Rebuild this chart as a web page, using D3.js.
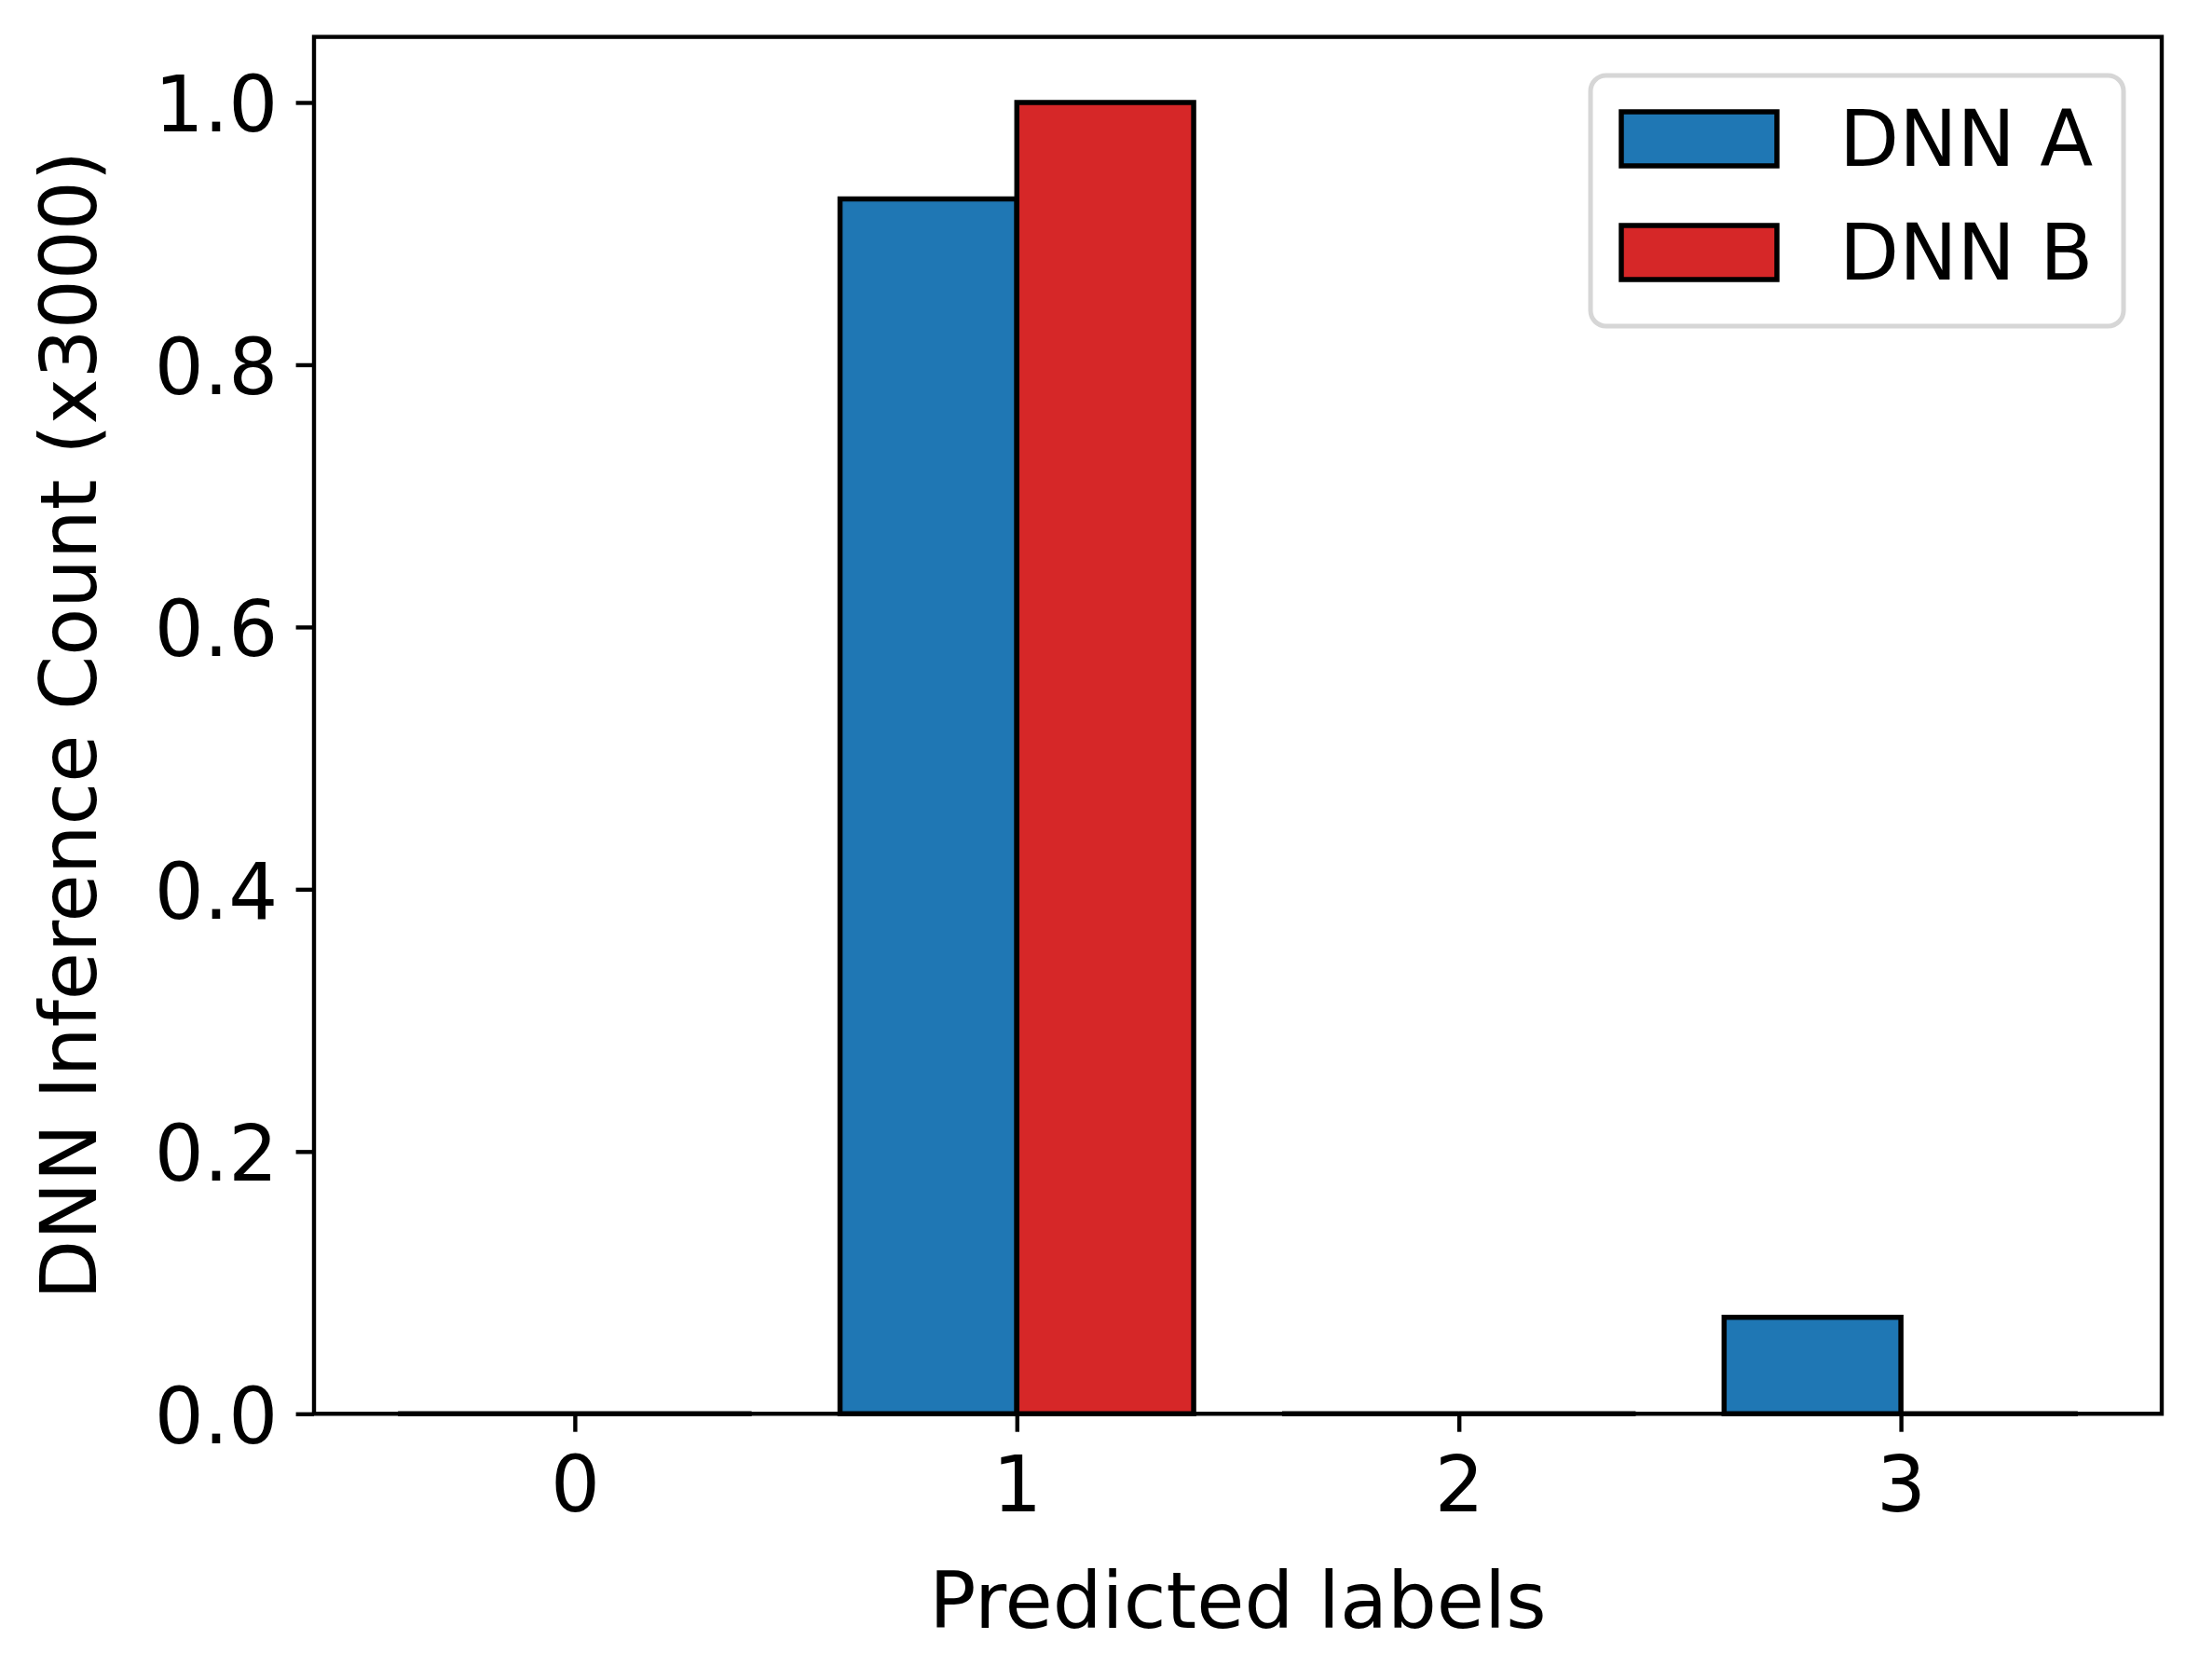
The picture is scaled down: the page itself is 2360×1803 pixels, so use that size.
<!DOCTYPE html>
<html>
  <head>
    <meta charset="utf-8">
    <title>DNN inference count</title>
    <style>
      body {
        margin: 0;
        padding: 0;
        background: #fff;
        font-family: 'DejaVu Sans', sans-serif;
      }
    </style>
  </head>
  <body>
    <div id="chart"></div>

    <script src="https://cdnjs.cloudflare.com/ajax/libs/d3/7.8.5/d3.min.js"></script>
    <script>
      // data
      const labels = [0, 1, 2, 3];
      const seriesNames = ["DNN A", "DNN B"];
      const dnnA = [0, 0.9265, 0, 0.0735];
      const dnnB = [0, 1.0, 0, 0];
      const yTicks = [0, 0.2, 0.4, 0.6, 0.8, 1.0];

      const colors = ["#1f77b4", "#d62728"];
      const series = [dnnA, dnnB];
      const barWidth = 0.4;

      const W = 2360, H = 1803;
      const plotL = 337, plotR = 2320, plotT = 39.6, plotB = 1517.3;
      const fontSize = 83.3;
      const tickLen = 19.4;

      const svg = d3.select('#chart')
                    .append('svg')
                    .attr('width', W)
                    .attr('height', H)
                    .style('display', 'block')
                    .style('font-family', "'DejaVu Sans', sans-serif");

      svg.append('rect').attr('width', W).attr('height', H).attr('fill', '#fff');

      // scales (matplotlib auto limits)
      const x = d3.scaleLinear()
                  .domain([-0.59, 3.59])
                  .range([plotL, plotR]);

      const y = d3.scaleLinear()
                  .domain([0, 1.05])
                  .range([plotB, plotT]);

      // bars, drawn as paths so zero-height bars still show their edge
      series.forEach((vals, si) => {
        const offset = si === 0 ? -barWidth : 0;
        svg.append('g')
          .selectAll('path')
          .data(vals)
          .enter()
          .append('path')
          .attr('d', (d, i) => {
            const x0 = x(labels[i] + offset), x1 = x(labels[i] + offset + barWidth);
            const y0 = y(0), y1 = y(d);
            return `M${x0},${y0}H${x1}V${y1}H${x0}Z`;
          })
          .attr('fill', colors[si])
          .attr('stroke', '#000')
          .attr('stroke-width', 5.5)
          .attr('stroke-linejoin', 'miter');
      });

      // axes
      const xAxis = svg.append('g')
        .attr('transform', `translate(0,${plotB})`)
        .call(d3.axisBottom(x).tickValues(labels).tickFormat(d3.format('d'))
                .tickSize(tickLen).tickSizeOuter(0));
      xAxis.select('.domain').remove();
      xAxis.selectAll('line').attr('stroke', '#000').attr('stroke-width', 4.4);
      xAxis.selectAll('text')
        .attr('y', 104.4).attr('dy', null)
        .attr('fill', '#000')
        .style('font-size', fontSize + 'px')
        .style('font-family', "'DejaVu Sans', sans-serif");

      const yAxis = svg.append('g')
        .attr('transform', `translate(${plotL},0)`)
        .call(d3.axisLeft(y).tickValues(yTicks).tickFormat(d3.format('.1f'))
                .tickSize(tickLen).tickSizeOuter(0));
      yAxis.select('.domain').remove();
      yAxis.selectAll('line').attr('stroke', '#000').attr('stroke-width', 4.4);
      yAxis.selectAll('text')
        .attr('x', -(tickLen * 2)).attr('dy', '0.37em')
        .attr('fill', '#000')
        .style('font-size', fontSize + 'px')
        .style('font-family', "'DejaVu Sans', sans-serif");

      // frame
      svg.append('rect')
        .attr('x', plotL).attr('y', plotT)
        .attr('width', plotR - plotL).attr('height', plotB - plotT)
        .attr('fill', 'none')
        .attr('stroke', '#000')
        .attr('stroke-width', 4.4);

      // axis titles
      svg.append('text')
        .attr('x', (plotL + plotR) / 2)
        .attr('y', 1747)
        .attr('text-anchor', 'middle')
        .style('font-size', fontSize + 'px')
        .text('Predicted labels');

      svg.append('text')
        .attr('transform', `translate(103,${(plotT + plotB) / 2}) rotate(-90)`)
        .attr('text-anchor', 'middle')
        .style('font-size', fontSize + 'px')
        .text('DNN Inference Count (x3000)');

      // legend
      const legend = svg.append('g');
      legend.append('rect')
        .attr('x', 1707).attr('y', 81)
        .attr('width', 572).attr('height', 269)
        .attr('rx', 16.7).attr('ry', 16.7)
        .attr('fill', '#fff')
        .attr('stroke', '#d6d6d6')
        .attr('stroke-width', 5);

      const rows = legend.selectAll('g.item')
        .data(seriesNames)
        .enter()
        .append('g')
        .attr('class', 'item')
        .attr('transform', (d, i) => `translate(0,${i * 122})`);

      rows.append('rect')
        .attr('x', 1740).attr('y', 120)
        .attr('width', 167).attr('height', 58)
        .attr('fill', (d, i) => colors[i])
        .attr('stroke', '#000')
        .attr('stroke-width', 5.5);

      rows.append('text')
        .attr('x', 1974).attr('y', 178)
        .style('font-size', fontSize + 'px')
        .text(d => d);
    </script>
  </body>
</html>
